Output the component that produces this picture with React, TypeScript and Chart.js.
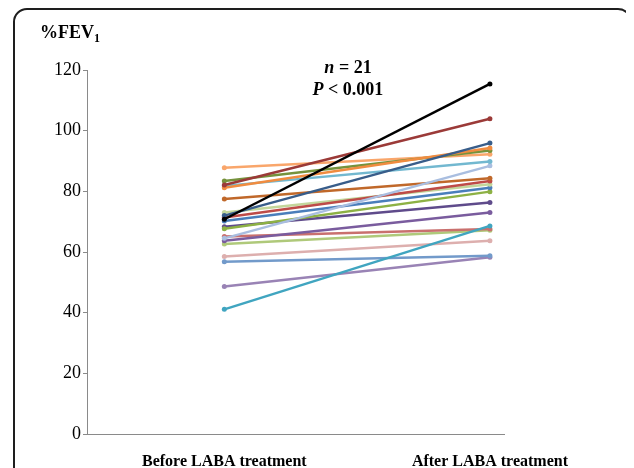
import React, { useEffect, useRef } from "react";
import { Chart, registerables } from "chart.js";
Chart.register(...registerables);

const categories = ["Before LABA treatment", "After LABA treatment"];
const yTicks = [0, 20, 40, 60, 80, 100, 120];

const beforeValues = [70.8, 82.1, 72.0, 81.2, 83.4, 87.8, 81.8, 64.5, 77.5, 71.4, 73.0, 70.2, 67.7, 68.3, 63.7, 41.1, 65.1, 62.6, 58.5, 56.8, 48.6];
const afterValues = [115.4, 103.9, 95.9, 94.3, 93.5, 92.2, 89.8, 88.4, 84.3, 83.4, 82.3, 81.2, 79.9, 76.3, 73.0, 68.6, 67.6, 67.2, 63.7, 58.8, 58.3];
const seriesColors = [
  "#000000", "#9B3A38", "#385D8A", "#F08C40", "#76923C", "#F9A66B", "#72B8D0",
  "#A9BEE0", "#C0682A", "#BE4B48", "#C3D69B", "#4A7EBB", "#8DB144", "#5F4B8B",
  "#7A5C9E", "#40A5C0", "#C9706E", "#AFC97A", "#DDAFAE", "#729ACA", "#9983B5",
];

export default function App() {
  const ref = useRef<HTMLCanvasElement | null>(null);
  useEffect(() => {
    if (!ref.current) return;
    const datasets = beforeValues.map((b, i) => ({
      label: "S" + (i + 1),
      data: [{ x: 0, y: b }, { x: 1, y: afterValues[i] }],
      borderColor: seriesColors[i],
      backgroundColor: seriesColors[i],
      borderWidth: 2.5,
      pointRadius: 2.5,
      pointBorderWidth: 0,
      pointBackgroundColor: seriesColors[i],
    }));
    const chart = new Chart(ref.current, {
      type: "line",
      data: { datasets },
      options: {
        animation: false,
        responsive: false,
        layout: { padding: { left: 0, top: 62, right: 122, bottom: 0 } },
        plugins: { legend: { display: false }, tooltip: { enabled: false } },
        scales: {
          x: {
            type: "linear",
            min: -0.517,
            max: 1.053,
            grid: { display: false, drawTicks: false },
            border: { display: true, color: "#8a8a8a", width: 1 },
            afterBuildTicks: (s: any) => { s.ticks = [{ value: 0 }, { value: 1 }]; },
            afterFit: (s: any) => { s.height = 34; },
            ticks: {
              autoSkip: false,
              maxRotation: 0,
              padding: 18,
              color: "#000",
              font: { family: "'Liberation Serif', serif", size: 16, weight: "bold" },
              callback: (v: any) => categories[Math.round(Number(v))],
            },
          },
          y: {
            min: 0,
            max: 120,
            afterBuildTicks: (s: any) => { s.ticks = yTicks.map((v) => ({ value: v })); },
            afterFit: (s: any) => { s.width = 79; },
            grid: { drawOnChartArea: false, drawTicks: true, tickLength: 4, color: "#8a8a8a" },
            border: { display: true, color: "#8a8a8a", width: 1 },
            ticks: {
              padding: 2,
              color: "#000",
              font: { family: "'Liberation Serif', serif", size: 18 },
            },
          },
        },
      },
    });
    return () => chart.destroy();
  }, []);

  return (
    <div style={{ position: "relative", width: 618, height: 460, overflow: "hidden" }}>
      <div
        style={{
          position: "absolute", left: 5, top: 0, width: 619, height: 520,
          boxSizing: "border-box", border: "2px solid #1e1e1e", borderRadius: 14,
        }}
      />
      <canvas ref={ref} width={618} height={460} style={{ position: "absolute", left: 0, top: 0, width: 618, height: 460 }} />
      <div
        style={{
          position: "absolute", left: 32, top: 15, fontFamily: "'Liberation Serif', serif",
          fontWeight: "bold", fontSize: 18, lineHeight: "18px", color: "#000",
        }}
      >
        %FEV<sub style={{ fontSize: 12, verticalAlign: "-4px", lineHeight: 0 }}>1</sub>
      </div>
      <div
        style={{
          position: "absolute", left: 240, top: 48, width: 200, textAlign: "center",
          fontFamily: "'Liberation Serif', serif", fontWeight: "bold", fontSize: 18,
          lineHeight: "22px", color: "#000",
        }}
      >
        <div><i>n</i> = 21</div>
        <div><i>P</i> &lt; 0.001</div>
      </div>
    </div>
  );
}
